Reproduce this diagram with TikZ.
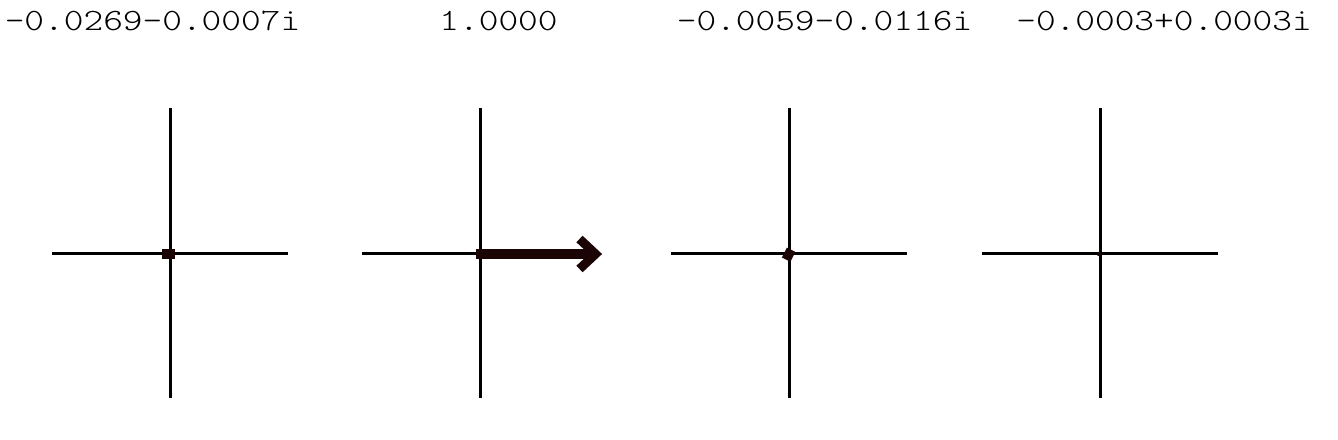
\documentclass[tikz,border=0pt]{standalone}
\usepackage{fontspec}
\setmonofont{Latin Modern Mono Light}[FakeStretch=1.21]
\definecolor{vec}{RGB}{26,4,4}
\begin{document}
\begin{tikzpicture}[x=1bp,y=-1bp,
  axis/.style={line width=3bp,black},
  vecline/.style={line width=9.5bp,vec,line cap=rect},
  lab/.style={inner sep=0pt,anchor=base,font=\ttfamily\fontsize{31bp}{36bp}\selectfont}]
\useasboundingbox (0,0) rectangle (1338,440);
% labels
\node[lab] (t1) at (152.5,31) {-0.0269-0.0007i};
\node[lab] (t2) at (498.5,31) {1.0000};
\node[lab] (t3) at (824.5,31) {-0.0059-0.0116i};
\node[lab] (t4) at (1164,31) {-0.0003+0.0003i};
% axes
\foreach \n/\cx in {1/170,2/480,3/789,4/1100}{
  \coordinate (c\n) at (\cx,254);
  \coordinate (l\n) at (\cx-118,254);
  \coordinate (r\n) at (\cx+117.5,254);
  \coordinate (u\n) at (\cx,108);
  \coordinate (d\n) at (\cx,398);
  \draw[axis] (l\n) -- (r\n);
  \draw[axis] (u\n) -- (d\n);
}
% vectors
\draw[vecline] (c1) -- ++(-3.2,0);
\coordinate (tip2) at (594,254);
\draw[vecline,line cap=butt] ([xshift=-4.5bp]c2) -- (tip2);
\draw[line width=9bp,vec,line join=miter,miter limit=10] (579.5,239) -- (595.5,254) -- (579.5,269);
\draw[vecline] (c3) -- ++(-0.7,1.4);
\fill[vec] ([xshift=-1bp]c4) circle (2.2bp);
\end{tikzpicture}
\end{document}
